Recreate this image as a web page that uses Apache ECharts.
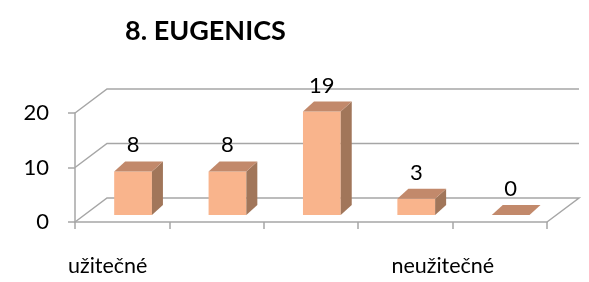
<!DOCTYPE html>
<html>
<head>
<meta charset="utf-8">
<script src="https://cdn.jsdelivr.net/npm/echarts@6/dist/echarts.min.js"></script>
<style>
  html, body { margin: 0; padding: 0; background: #fff; }
  #chart { width: 589px; height: 282px; }
</style>
</head>
<body>
<div id="chart"></div>
<script>
// data
var categories = ['užitečné', '', '', '', 'neužitečné'];
var counts = [8, 8, 19, 3, 0];
var yTicks = [0, 10, 20];

var dom = document.getElementById('chart');
var myChart = echarts.init(dom, null, { renderer: 'canvas' });

var font = 'Lato, "Open Sans", sans-serif';
var lineColor = '#a6a6a6';
var depth = [32, -24];   // offset of the back wall

// back wall + floor lines
function renderWall(params, api) {
  var cs = params.coordSys;
  var v = api.value(0);
  var y = api.coord([0, v])[1];
  var x0 = cs.x, x1 = cs.x + cs.width;
  var pts = [[x0, y], [x0 + depth[0], y + depth[1]], [x1 + depth[0], y + depth[1]]];
  if (v === 0) pts.push([x1, y]);
  return {
    type: 'polyline',
    shape: { points: pts },
    style: { stroke: lineColor, lineWidth: 1.5, fill: null }
  };
}

// 3d-looking boxes
function renderBar(params, api) {
  var i = api.value(0);
  var v = api.value(1);
  var bottom = api.coord([i, 0]);
  var top = api.coord([i, v]);
  var bw = api.size([1, 0])[0];
  var w = bw * 0.4;
  var fx0 = bottom[0] - bw * 0.085;
  var fx1 = fx0 + w;
  var yb = bottom[1] - 7;
  var yt = top[1] - 7;
  var dx = 11, dy = -10;
  var children = [];
  if (yb - yt > 0) {
    children.push({
      type: 'rect',
      shape: { x: fx0, y: yt, width: w, height: yb - yt },
      style: { fill: '#f9b48c' }
    });
    children.push({
      type: 'polygon',
      shape: { points: [[fx1, yb], [fx1, yt], [fx1 + dx, yt + dy], [fx1 + dx, yb + dy]] },
      style: { fill: '#a1765a' }
    });
  }
  children.push({
    type: 'polygon',
    shape: { points: [[fx0, yt], [fx1, yt], [fx1 + dx, yt + dy], [fx0 + dx, yt + dy]] },
    style: { fill: '#c2896b' }
  });
  children.push({
    type: 'text',
    style: {
      text: String(v),
      x: fx0 + w / 2,
      y: yt + dy - 16,
      align: 'center',
      verticalAlign: 'middle',
      fill: '#000',
      fontSize: 22,
      fontFamily: font
    }
  });
  return { type: 'group', children: children };
}

var option = {
  animation: false,
  title: {
    text: '8. EUGENICS',
    left: 120,
    top: 13,
    textStyle: { fontSize: 27, fontWeight: 'bold', fontFamily: font, color: '#000' }
  },
  grid: { left: 75, right: 42, top: 113, bottom: 60 },
  xAxis: {
    type: 'category',
    data: categories,
    axisLine: { lineStyle: { color: lineColor, width: 1.5 } },
    axisTick: { show: true, length: 7, interval: 0, lineStyle: { color: lineColor, width: 1.5 } },
    axisLabel: {
      interval: 0,
      margin: 33,
      color: '#000',
      fontSize: 21.5,
      fontFamily: font,
      formatter: function (val, idx) {
        if (idx === 0) return '{a|' + val + '}';
        if (idx === categories.length - 1) return '{b|' + val + '}';
        return '';
      },
      rich: {
        a: { fontSize: 21.5, fontFamily: font, color: '#000', padding: [0, 29, 0, 0] },
        b: { fontSize: 21.5, fontFamily: font, color: '#000', padding: [0, 114, 0, 0] }
      }
    }
  },
  yAxis: {
    type: 'value',
    min: 0,
    max: 20,
    interval: 10,
    axisLine: { show: true, lineStyle: { color: lineColor, width: 1.5 } },
    axisTick: { show: true, length: 7, lineStyle: { color: lineColor, width: 1.5 } },
    splitLine: { show: false },
    axisLabel: { margin: 26, color: '#000', fontSize: 22, fontFamily: font }
  },
  series: [
    {
      type: 'custom',
      renderItem: renderWall,
      data: yTicks.map(function (t) { return [t]; }),
      encode: { y: 0 },
      clip: false,
      silent: true,
      z: 1
    },
    {
      type: 'custom',
      renderItem: renderBar,
      data: counts.map(function (c, i) { return [i, c]; }),
      encode: { x: 0, y: 1 },
      clip: false,
      z: 3
    }
  ]
};

myChart.setOption(option);
window.addEventListener('resize', myChart.resize);
</script>
</body>
</html>
